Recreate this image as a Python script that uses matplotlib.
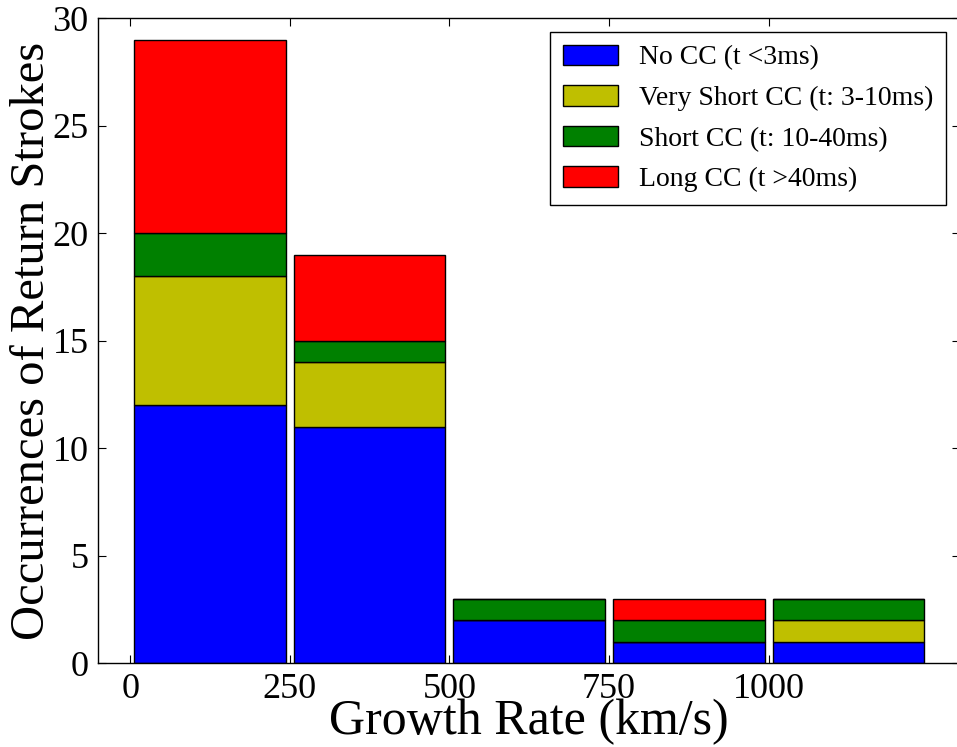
import matplotlib
matplotlib.use("Agg")
import matplotlib.pyplot as plt
import numpy as np

# Data
bin_edges = [0, 250, 500, 750, 1000, 1250]
bin_centers = [125, 375, 625, 875, 1125]
series_labels = ["No CC (t <3ms)", "Very Short CC (t: 3-10ms)",
                 "Short CC (t: 10-40ms)", "Long CC (t >40ms)"]
no_cc = [12, 11, 2, 1, 1]
very_short_cc = [6, 3, 0, 0, 1]
short_cc = [2, 1, 1, 1, 1]
long_cc = [9, 4, 0, 1, 0]
series_colors = ["#0000ff", "#bfbf00", "#008000", "#ff0000"]
xtick_values = [0, 250, 500, 750, 1000]
ytick_values = [0, 5, 10, 15, 20, 25, 30]

plt.rcParams['font.family'] = ['Liberation Serif', 'DejaVu Serif']

fig = plt.figure(figsize=(9.57, 7.47), dpi=100)
W, H = 957.0, 747.0
left, right, top, bottom = 98.3, 960.0, 18.3, 663.3
ax = fig.add_axes([left / W, 1 - bottom / H, (right - left) / W, (bottom - top) / H])

ax.hist([bin_centers] * 4, bins=bin_edges,
        weights=[no_cc, very_short_cc, short_cc, long_cc],
        histtype='barstacked', rwidth=0.95, color=series_colors,
        edgecolor='black', linewidth=1.0, label=series_labels)

ax.set_xlim(-50, 1300)
ax.set_ylim(0, 30)
ax.set_xticks(xtick_values)
ax.set_yticks(ytick_values)
ax.tick_params(direction='in', length=6, width=0.8, top=True, right=True,
               labelsize=26, pad=7)
for s in ax.spines.values():
    s.set_linewidth(1.0)

ax.set_xlabel("Growth Rate (km/s)", fontsize=36, labelpad=-5)
ax.set_ylabel("Occurrences of Return Strokes", fontsize=35, labelpad=-1)

leg = ax.legend(loc='upper right', fontsize=20, frameon=True, fancybox=False,
                edgecolor='black', framealpha=1, borderaxespad=0.5,
                handlelength=2.0, handleheight=0.75, labelspacing=0.53,
                handletextpad=0.75, borderpad=0.45)
leg.get_frame().set_linewidth(1.0)

fig.savefig("out.png", dpi=100)
